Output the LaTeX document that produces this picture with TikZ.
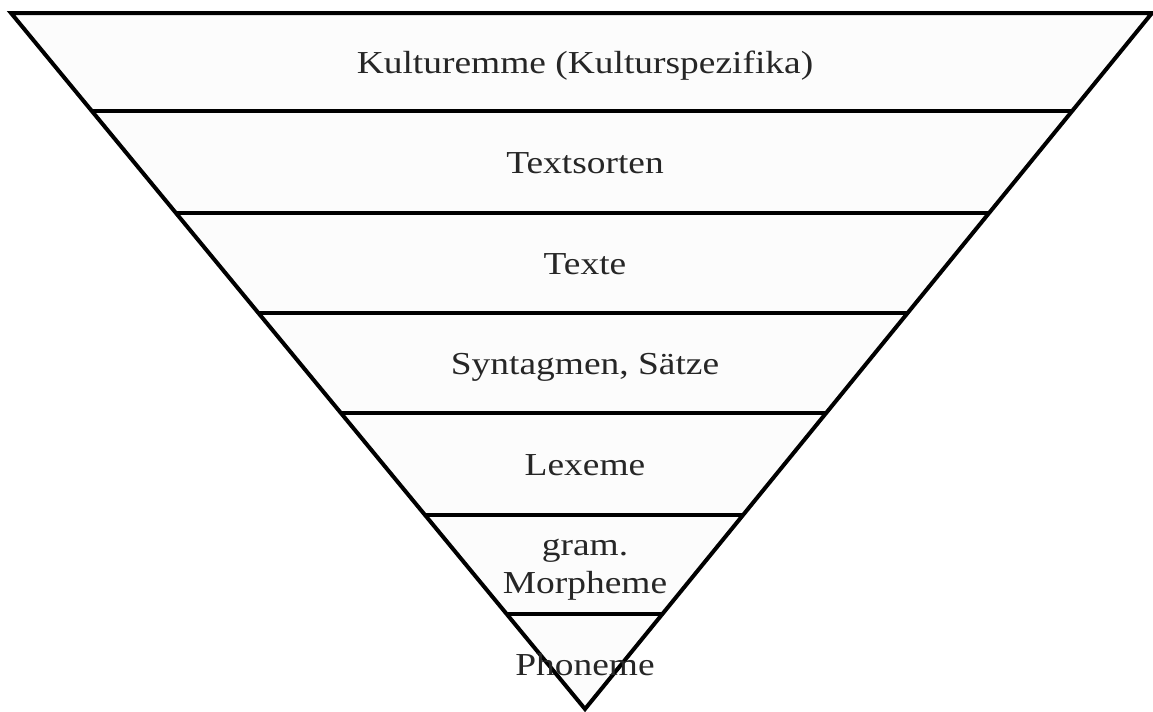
\documentclass[tikz,border=0pt]{standalone}
\usepackage{fontspec}
\setmainfont{Liberation Serif}[FakeStretch=1.17]
\usetikzlibrary{calc}

\begin{document}
\begin{tikzpicture}[x=0.75pt,y=-0.75pt,
	layer/.style={font=\fontsize{24}{28.5}\selectfont, text=black!85, align=center, anchor=base, inner sep=0pt}]
	\useasboundingbox (0,0) rectangle (1153,711);

	% the funnel
	\coordinate (tl) at (11,13);
	\coordinate (tr) at (1152,13);
	\coordinate (apex) at (585,709);
	\draw[line width=3pt, fill=black!1] (tl) -- (tr) -- (apex) -- cycle;

	% the layers
	\foreach \y [evaluate=\y as \t using (\y-13)/696] in {111,213,313,413,515,614}
		\draw[line width=3pt] ($(tl)!\t!(apex)$) -- ($(tr)!\t!(apex)$);

	\node[layer] (kult)   at (585, 73)  {Kulturemme (Kulturspezifika)};
	\node[layer] (sorten) at (585, 173) {Textsorten};
	\node[layer] (texte)  at (585, 274) {Texte};
	\node[layer] (synt)   at (585, 374) {Syntagmen, Sätze};
	\node[layer] (lex)    at (585, 475) {Lexeme};
	\node[layer] (morph)  at (585, 593) {gram.\\Morpheme};
	\node[layer] (phon)   at (585, 675) {Phoneme};
\end{tikzpicture}
\end{document}
